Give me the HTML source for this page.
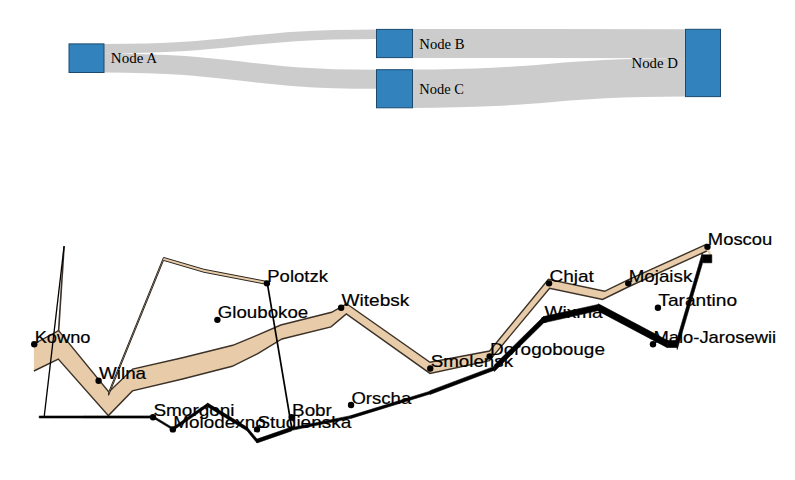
<!DOCTYPE html>
<html><head><meta charset="utf-8"><style>
html,body{margin:0;padding:0;background:#fff;width:795px;height:480px;overflow:hidden}
svg{position:absolute;left:0;top:0;display:block}
.sk{font-family:"Liberation Serif",serif;font-size:14.5px;fill:#000}
.ct{font-family:"Liberation Sans",sans-serif;font-size:16.6px;fill:#000;stroke:#000;stroke-width:0.2px}
</style></head><body>
<svg width="795" height="480" viewBox="0 0 795 480">
<g>
<path d="M104,48.65C240.25,48.65 240.25,34.15 376.5,34.15" fill="none" stroke="#000" stroke-opacity="0.2" stroke-width="9.5"/>
<path d="M104,62.9C240.25,62.9 240.25,79.2 376.5,79.2" fill="none" stroke="#000" stroke-opacity="0.2" stroke-width="19"/>
<path d="M412.5,43.4C549,43.4 549,43.8 685.5,43.8" fill="none" stroke="#000" stroke-opacity="0.2" stroke-width="29"/>
<path d="M412.5,88.75C549,88.75 549,77.45 685.5,77.45" fill="none" stroke="#000" stroke-opacity="0.2" stroke-width="38.3"/>
<rect x="69" y="43.9" width="35" height="28.6" fill="#3182bd" stroke="#1b4a6e" stroke-width="1"/>
<text x="110.8" y="58.2" dy=".35em" text-anchor="start" textLength="46.3" lengthAdjust="spacingAndGlyphs" class="sk">Node A</text>
<rect x="376.5" y="29.4" width="36" height="28.2" fill="#3182bd" stroke="#1b4a6e" stroke-width="1"/>
<text x="419.3" y="43.5" dy=".35em" text-anchor="start" textLength="45.3" lengthAdjust="spacingAndGlyphs" class="sk">Node B</text>
<rect x="376.5" y="69.7" width="36" height="38.1" fill="#3182bd" stroke="#1b4a6e" stroke-width="1"/>
<text x="419.3" y="88.75" dy=".35em" text-anchor="start" textLength="44.6" lengthAdjust="spacingAndGlyphs" class="sk">Node C</text>
<rect x="685.5" y="29.3" width="35" height="67.3" fill="#3182bd" stroke="#1b4a6e" stroke-width="1"/>
<text x="677.9" y="62.95" dy=".35em" text-anchor="end" textLength="46.3" lengthAdjust="spacingAndGlyphs" class="sk">Node D</text>
</g>
<g>
<polygon points="33.9,344 58.6,330.6 108.8,392 132.6,369.1 182.5,357.8 232.8,345.3 256.9,335.3 280.8,325 331.6,312.3 346.6,303.8 430,362.2 489.6,351 548.4,279.2 604.6,291.3 628,279.8 706.8,244.2 711.8,255.5 711.8,258.5 706.8,251 628,287 602.6,299.4 549.6,288.2 489.4,360.6 430,373.4 346.3,314 331,326.9 281.9,339 257.8,353.6 232.2,366.3 182.5,379 132.4,390.9 108.4,415.6 58.3,359 33.9,371" fill="#e8cca9"/>
<polyline points="33.9,344 58.6,330.6 108.8,392 132.6,369.1 182.5,357.8 232.8,345.3 256.9,335.3 280.8,325 331.6,312.3 346.6,303.8 430,362.2 489.6,351 548.4,279.2 604.6,291.3 628,279.8 706.8,244.2" fill="none" stroke="#3b3127" stroke-width="1.4" stroke-linejoin="miter"/>
<polyline points="33.9,371 58.3,359 108.4,415.6 132.4,390.9 182.5,379 232.2,366.3 257.8,353.6 281.9,339 331,326.9 346.3,314 430,373.4 489.4,360.6 549.6,288.2 602.6,299.4 628,287 706.8,251" fill="none" stroke="#3b3127" stroke-width="1.4" stroke-linejoin="miter"/>
<polygon points="108.6,392.3 163.5,257.4 204,269.3 267.3,281.5 267.3,284.5 204,272.3 163.5,260.4 108.6,395.3" fill="#e8cca9" stroke="#2b2620" stroke-width="1.0" stroke-linejoin="miter"/>
<polyline points="58.6,331 64.1,246.2" fill="none" stroke="#3b3127" stroke-width="1.6"/>
<polyline points="64.1,246.2 44.2,416.6" fill="none" stroke="#000" stroke-width="1.3"/>
<polyline points="267.3,283.2 291.9,429" fill="none" stroke="#000" stroke-width="1.7"/>
<polygon points="711.8,254.8 702.2,254.8 702.2,262.8 711.8,262.8" fill="#000" stroke="#000" stroke-width="0.6" stroke-linejoin="round"/>
<polygon points="702.2,253.3 677.2,338.5 677.2,349.5 702.2,264.3" fill="#000" stroke="#000" stroke-width="0.6" stroke-linejoin="round"/>
<polygon points="677.2,340.5 667.3,340.5 667.3,347.5 677.2,347.5" fill="#000" stroke="#000" stroke-width="0.6" stroke-linejoin="round"/>
<polygon points="667.3,340.35 598.4,303.85 598.4,311.15 667.3,347.65" fill="#000" stroke="#000" stroke-width="0.6" stroke-linejoin="round"/>
<polygon points="598.4,304.4 543.6,316.6 543.6,322.8 598.4,310.6" fill="#000" stroke="#000" stroke-width="0.6" stroke-linejoin="round"/>
<polygon points="543.6,316.45 494.3,365.05 494.3,371.55 543.6,322.95" fill="#000" stroke="#000" stroke-width="0.6" stroke-linejoin="round"/>
<polygon points="494.3,366.4 430,390.7 430,394.5 494.3,370.2" fill="#000" stroke="#000" stroke-width="0.6" stroke-linejoin="round"/>
<polygon points="430,391.2 350.9,415.6 350.9,418.4 430,394" fill="#000" stroke="#000" stroke-width="0.6" stroke-linejoin="round"/>
<polygon points="350.9,415.65 291.6,427.65 291.6,430.35 350.9,418.35" fill="#000" stroke="#000" stroke-width="0.6" stroke-linejoin="round"/>
<polygon points="291.6,427.1 257,439.1 257,442.9 291.6,430.9" fill="#000" stroke="#000" stroke-width="0.6" stroke-linejoin="round"/>
<polygon points="257,439.1 247.1,427.1 247.1,430.9 257,442.9" fill="#000" stroke="#000" stroke-width="0.6" stroke-linejoin="round"/>
<polygon points="247.1,427.2 207.6,403.1 207.6,406.7 247.1,430.8" fill="#000" stroke="#000" stroke-width="0.6" stroke-linejoin="round"/>
<polygon points="207.6,403.3 173,427.4 173,430.6 207.6,406.5" fill="#000" stroke="#000" stroke-width="0.6" stroke-linejoin="round"/>
<polygon points="173,427.9 153.2,415.9 153.2,418.1 173,430.1" fill="#000" stroke="#000" stroke-width="0.6" stroke-linejoin="round"/>
<polygon points="153.2,415.9 84,415.9 84,418.1 153.2,418.1" fill="#000" stroke="#000" stroke-width="0.6" stroke-linejoin="round"/>
<polygon points="84,416 54.1,416 54.1,418 84,418" fill="#000" stroke="#000" stroke-width="0.6" stroke-linejoin="round"/>
<polygon points="54.1,416 44.2,416 44.2,418 54.1,418" fill="#000" stroke="#000" stroke-width="0.6" stroke-linejoin="round"/>
<polygon points="44.2,416 39.2,416 39.2,418 44.2,418" fill="#000" stroke="#000" stroke-width="0.6" stroke-linejoin="round"/>
<circle cx="34.25" cy="344.2" r="3.2" fill="#000"/>
<circle cx="98.6" cy="380.71" r="3.2" fill="#000"/>
<circle cx="153.05" cy="417.22" r="3.2" fill="#000"/>
<circle cx="172.85" cy="429.39" r="3.2" fill="#000"/>
<circle cx="217.4" cy="319.86" r="3.2" fill="#000"/>
<circle cx="257" cy="429.39" r="3.2" fill="#000"/>
<circle cx="266.9" cy="283.35" r="3.2" fill="#000"/>
<circle cx="291.65" cy="417.22" r="3.2" fill="#000"/>
<circle cx="341.15" cy="307.69" r="3.2" fill="#000"/>
<circle cx="351.05" cy="405.05" r="3.2" fill="#000"/>
<circle cx="430.25" cy="368.54" r="3.2" fill="#000"/>
<circle cx="489.65" cy="356.37" r="3.2" fill="#000"/>
<circle cx="544.1" cy="319.86" r="3.2" fill="#000"/>
<circle cx="549.05" cy="283.35" r="3.2" fill="#000"/>
<circle cx="628.25" cy="283.35" r="3.2" fill="#000"/>
<circle cx="707.45" cy="246.84" r="3.2" fill="#000"/>
<circle cx="657.95" cy="307.69" r="3.2" fill="#000"/>
<circle cx="653" cy="344.2" r="3.2" fill="#000"/>
<text x="34.65" y="342.7" textLength="55.79" lengthAdjust="spacingAndGlyphs" class="ct">Kowno</text>
<text x="99" y="379.21" textLength="47.08" lengthAdjust="spacingAndGlyphs" class="ct">Wilna</text>
<text x="153.45" y="415.72" textLength="81.14" lengthAdjust="spacingAndGlyphs" class="ct">Smorgoni</text>
<text x="173.25" y="427.89" textLength="92.39" lengthAdjust="spacingAndGlyphs" class="ct">Molodexno</text>
<text x="217.8" y="318.36" textLength="90.37" lengthAdjust="spacingAndGlyphs" class="ct">Gloubokoe</text>
<text x="257.4" y="427.89" textLength="93.81" lengthAdjust="spacingAndGlyphs" class="ct">Studienska</text>
<text x="267.3" y="281.85" textLength="60.61" lengthAdjust="spacingAndGlyphs" class="ct">Polotzk</text>
<text x="292.05" y="415.72" textLength="39.85" lengthAdjust="spacingAndGlyphs" class="ct">Bobr</text>
<text x="341.55" y="306.19" textLength="67.78" lengthAdjust="spacingAndGlyphs" class="ct">Witebsk</text>
<text x="351.45" y="403.55" textLength="59.77" lengthAdjust="spacingAndGlyphs" class="ct">Orscha</text>
<text x="430.65" y="367.04" textLength="82.42" lengthAdjust="spacingAndGlyphs" class="ct">Smolensk</text>
<text x="490.05" y="354.87" textLength="114.93" lengthAdjust="spacingAndGlyphs" class="ct">Dorogobouge</text>
<text x="544.5" y="318.36" textLength="58.2" lengthAdjust="spacingAndGlyphs" class="ct">Wixma</text>
<text x="549.45" y="281.85" textLength="44.46" lengthAdjust="spacingAndGlyphs" class="ct">Chjat</text>
<text x="628.65" y="281.85" textLength="63.64" lengthAdjust="spacingAndGlyphs" class="ct">Mojaisk</text>
<text x="707.85" y="245.34" textLength="64.45" lengthAdjust="spacingAndGlyphs" class="ct">Moscou</text>
<text x="658.35" y="306.19" textLength="78.74" lengthAdjust="spacingAndGlyphs" class="ct">Tarantino</text>
<text x="653.4" y="342.7" textLength="122.73" lengthAdjust="spacingAndGlyphs" class="ct">Malo-Jarosewii</text>
</g>
</svg>
</body></html>
